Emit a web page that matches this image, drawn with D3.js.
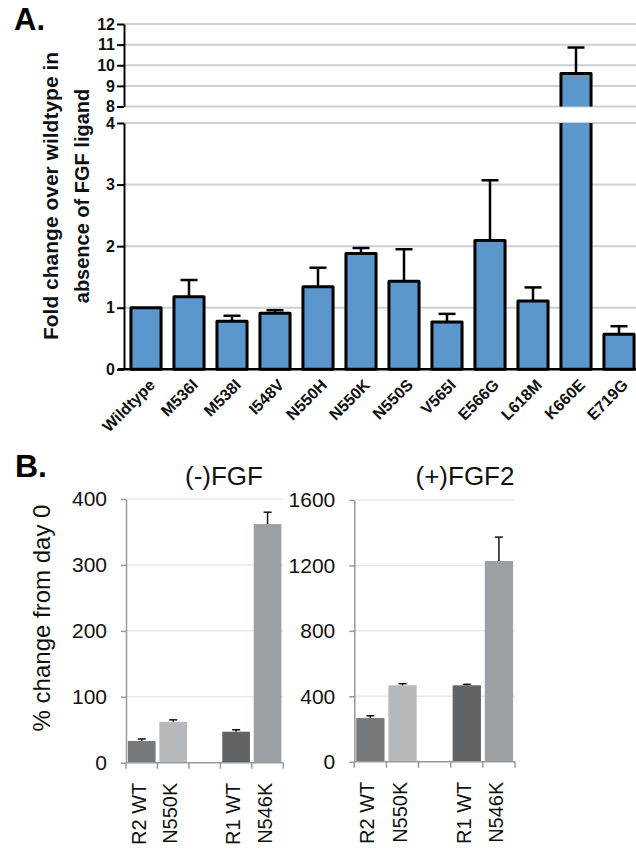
<!DOCTYPE html>
<html>
<head>
<meta charset="utf-8">
<script src="https://cdn.jsdelivr.net/npm/d3@7"></script>
<style>
  body { margin: 0; background: #fff; }
  svg { display: block; font-family: Arial, "Liberation Sans", sans-serif; }
</style>
</head>
<body>
<svg id="fig" width="636" height="852"></svg>
<script>
// panel A: fold change over wildtype, no ligand
var mutants = ["Wildtype", "M536I", "M538I", "I548V", "N550H", "N550K", "N550S", "V565I", "E566G", "L618M", "K660E", "E719G"];
var foldMean = [1.0, 1.18, 0.78, 0.91, 1.34, 1.88, 1.43, 0.77, 2.09, 1.11, 9.6, 0.57];
var foldUpper = [1.0, 1.45, 0.87, 0.96, 1.65, 1.97, 1.95, 0.90, 3.07, 1.33, 10.86, 0.70];
var lowTicks = [0, 1, 2, 3, 4];
var highTicks = [8, 9, 10, 11, 12];

// panel B: % change from day 0
var cellLines = ["R2 WT", "N550K", "", "R1 WT", "N546K"];
var barColors = ["#75797c", "#b5b9bc", "none", "#5f6366", "#9aa0a3"];
var minusFGF = [33, 62, null, 47, 362];
var minusFGFErr = [3, 3, null, 3, 18];
var plusFGF2 = [267, 467, null, 467, 1227];
var plusFGF2Err = [14, 10, null, 6, 146];
var minusTicks = [0, 100, 200, 300, 400];
var plusTicks = [0, 400, 800, 1200, 1600];

var svg = d3.select("#fig");
var fmt = d3.format("d");

// ---------- panel A ----------
var axX = 124, rightEdge = 636;
var yLow = d3.scaleLinear().domain([0, 4]).range([369.3, 123]);
var yHigh = d3.scaleLinear().domain([8, 12]).range([106.5, 24]);
var yA = function(v) { return v <= 4 ? yLow(v) : yHigh(v); };

var xA = d3.scaleBand().domain(mutants).range([124.5, 640.5])
    .paddingInner(0.3).paddingOuter(0.15);

var gA = svg.append("g");

// gridlines
gA.selectAll("line.grid")
  .data(lowTicks.filter(d => d > 0).map(yLow).concat(highTicks.map(yHigh)))
  .enter().append("line")
    .attr("x1", axX).attr("x2", rightEdge)
    .attr("y1", d => d).attr("y2", d => d)
    .attr("stroke", "#cdd0d3").attr("stroke-width", 2);

var bw = xA.bandwidth();
mutants.forEach(function(m, i) {
  var x0 = xA(m), v = foldMean[i];
  if (v <= 4) {
    gA.append("rect")
      .attr("x", x0).attr("y", yLow(v))
      .attr("width", bw).attr("height", yLow(0) - yLow(v))
      .attr("fill", "#5b96cc").attr("stroke", "#000")
      .attr("stroke-width", 3).attr("stroke-linejoin", "round");
  } else {
    // broken bar: upper piece and lower piece, open at the break
    gA.append("rect").attr("x", x0).attr("y", yHigh(v))
      .attr("width", bw).attr("height", yHigh(8) - yHigh(v)).attr("fill", "#5b96cc");
    gA.append("rect").attr("x", x0).attr("y", yLow(4))
      .attr("width", bw).attr("height", yLow(0) - yLow(4)).attr("fill", "#5b96cc");
    gA.append("path")
      .attr("d", "M" + x0 + "," + yHigh(8) + "V" + yHigh(v) + "H" + (x0 + bw) + "V" + yHigh(8))
      .attr("fill", "none").attr("stroke", "#000").attr("stroke-width", 3).attr("stroke-linejoin", "round");
    gA.append("path")
      .attr("d", "M" + x0 + "," + yLow(4) + "V" + yLow(0) + "H" + (x0 + bw) + "V" + yLow(4))
      .attr("fill", "none").attr("stroke", "#000").attr("stroke-width", 3);
  }
  // error bar
  if (foldUpper[i] > v + 0.001) {
    var cx = x0 + bw / 2;
    gA.append("line").attr("x1", cx).attr("x2", cx)
      .attr("y1", yA(v)).attr("y2", yA(foldUpper[i]))
      .attr("stroke", "#000").attr("stroke-width", 2.5);
    gA.append("line").attr("x1", cx - 8.5).attr("x2", cx + 8.5)
      .attr("y1", yA(foldUpper[i])).attr("y2", yA(foldUpper[i]))
      .attr("stroke", "#000").attr("stroke-width", 2.5);
  }
});

// x axis baseline
gA.append("line").attr("x1", axX - 6).attr("x2", rightEdge)
  .attr("y1", yLow(0)).attr("y2", yLow(0))
  .attr("stroke", "#000").attr("stroke-width", 2.5);

// broken y axis
[[yLow, lowTicks], [yHigh, highTicks]].forEach(function(p) {
  var ax = gA.append("g").attr("transform", "translate(" + axX + ",0)")
    .call(d3.axisLeft(p[0]).tickValues(p[1]).tickFormat(fmt)
      .tickSize(7).tickSizeOuter(0).tickPadding(2));
  ax.select(".domain").attr("stroke", "#000").attr("stroke-width", 2);
  ax.selectAll(".tick line").attr("stroke", "#000").attr("stroke-width", 2);
  ax.selectAll(".tick text").attr("font-size", 16).attr("font-weight", "bold")
    .attr("font-family", "Arial, 'Liberation Sans', sans-serif").attr("fill", "#111");
});

// rotated category labels
gA.selectAll("text.cat").data(mutants).enter().append("text")
  .attr("transform", d => "translate(" + (xA(d) + bw / 2 + 6) + ",382) rotate(-45)")
  .attr("text-anchor", "end").attr("dy", "0.35em")
  .attr("font-size", 16).attr("font-weight", "bold").attr("fill", "#111")
  .text(d => d);

// y label
var ylA = gA.append("text").attr("text-anchor", "middle")
  .attr("font-size", 21).attr("font-weight", "bold").attr("fill", "#111");
ylA.append("tspan").attr("x", 0).attr("y", 0).text("Fold change over wildtype in");
ylA.append("tspan").attr("x", 0).attr("y", 31).attr("font-size", 20).text("absence of FGF ligand");
ylA.attr("transform", "translate(58,196) rotate(-90)");

svg.append("text").attr("x", 14).attr("y", 30)
  .attr("font-size", 31).attr("font-weight", "bold").text("A.");

// ---------- panel B ----------
svg.append("text").attr("x", 15).attr("y", 477)
  .attr("font-size", 32).attr("font-weight", "bold").text("B.");

function drawPanel(opts) {
  var g = svg.append("g");
  var x = d3.scaleBand().domain(d3.range(cellLines.length)).range([opts.x0, opts.x1])
      .paddingInner(0.12).paddingOuter(0.06);
  var y = d3.scaleLinear().domain([0, opts.max]).range([opts.yBottom, opts.yTop]);

  g.selectAll("line.grid").data(opts.ticks.slice(1)).enter().append("line")
    .attr("x1", opts.x0).attr("x2", opts.x1)
    .attr("y1", d => y(d)).attr("y2", d => y(d))
    .attr("stroke", "#e9e9e9").attr("stroke-width", 1.5);

  opts.values.forEach(function(v, i) {
    if (v == null) return;
    g.append("rect").attr("x", x(i)).attr("y", y(v))
      .attr("width", x.bandwidth()).attr("height", y(0) - y(v))
      .attr("fill", barColors[i]);
    var cx = x(i) + x.bandwidth() / 2, top = y(v + opts.err[i]);
    g.append("line").attr("x1", cx).attr("x2", cx).attr("y1", y(v)).attr("y2", top)
      .attr("stroke", "#111").attr("stroke-width", 1.5);
    g.append("line").attr("x1", cx - 4).attr("x2", cx + 4).attr("y1", top).attr("y2", top)
      .attr("stroke", "#111").attr("stroke-width", 1.5);
  });

  var ya = g.append("g").attr("transform", "translate(" + opts.x0 + ",0)")
    .call(d3.axisLeft(y).tickValues(opts.ticks).tickFormat(fmt)
      .tickSize(5).tickSizeOuter(0).tickPadding(14));
  ya.select(".domain").attr("stroke", "#999").attr("stroke-width", 1.5);
  ya.selectAll(".tick line").attr("stroke", "#999").attr("stroke-width", 1.5);
  ya.selectAll(".tick text").attr("font-size", 21).attr("fill", "#111")
    .attr("font-family", "Arial, 'Liberation Sans', sans-serif");

  // x axis with tick marks between categories
  g.append("line").attr("x1", opts.x0).attr("x2", opts.x1)
    .attr("y1", y(0)).attr("y2", y(0)).attr("stroke", "#999").attr("stroke-width", 1.5);
  var step = x.step();
  g.selectAll("line.xt").data(d3.range(cellLines.length + 1)).enter().append("line")
    .attr("x1", d => opts.x0 + d * step).attr("x2", d => opts.x0 + d * step)
    .attr("y1", y(0)).attr("y2", y(0) + 6)
    .attr("stroke", "#999").attr("stroke-width", 1.5);

  g.selectAll("text.cat").data(cellLines).enter().append("text")
    .attr("transform", (d, i) => "translate(" + (x(i) + x.bandwidth() / 2 - 3) + "," + (y(0) + 20) + ") rotate(-90)")
    .attr("text-anchor", "end").attr("dy", "0.35em")
    .attr("font-size", 20).attr("fill", "#111")
    .text(d => d);

  g.append("text").attr("x", opts.titleX).attr("y", 485)
    .attr("text-anchor", "middle").attr("font-size", 26).attr("fill", "#111")
    .text(opts.title);
}

drawPanel({x0: 126, x1: 283.3, yTop: 499, yBottom: 762.7, max: 400, ticks: minusTicks,
           values: minusFGF, err: minusFGFErr, title: "(-)FGF", titleX: 224});
drawPanel({x0: 354.3, x1: 515, yTop: 500, yBottom: 761.7, max: 1600, ticks: plusTicks,
           values: plusFGF2, err: plusFGF2Err, title: "(+)FGF2", titleX: 465});

svg.append("text").attr("transform", "translate(50,618) rotate(-90)")
  .attr("text-anchor", "middle").attr("font-size", 24).attr("fill", "#111")
  .text("% change from day 0");
</script>
</body>
</html>
